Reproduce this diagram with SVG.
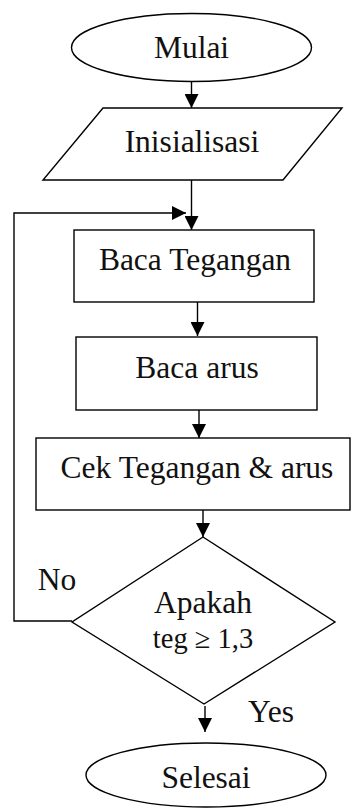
<svg xmlns="http://www.w3.org/2000/svg" width="352" height="808" viewBox="0 0 352 808">
  <style>
    .shape { fill: #ffffff; stroke: #000000; stroke-width: 1.4; }
    .lbl { font-family: "Liberation Serif", "Times New Roman", serif; font-size: 31.5px; fill: #111111; text-anchor: middle; }
    .small { font-size: 28.5px; }
    .edge { fill: none; stroke: #000000; stroke-width: 1.4; }
  </style>
  <defs>
    <marker id="arrow" markerWidth="15" markerHeight="14" refX="14" refY="7" orient="auto" markerUnits="userSpaceOnUse">
      <path d="M0,0 L14,7 L0,14 Z" fill="#000000"/>
    </marker>
  </defs>
  <rect width="352" height="808" fill="#ffffff"/>

  <g id="connectors">
    <line class="edge" x1="191.5" y1="82" x2="191.5" y2="108" marker-end="url(#arrow)"/>
    <line class="edge" x1="191.5" y1="180" x2="191.5" y2="230" marker-end="url(#arrow)"/>
    <line class="edge" x1="197.5" y1="302" x2="197.5" y2="336" marker-end="url(#arrow)"/>
    <line class="edge" x1="199" y1="410" x2="199" y2="438" marker-end="url(#arrow)"/>
    <line class="edge" x1="203" y1="510" x2="203" y2="537" marker-end="url(#arrow)"/>
    <line class="edge" x1="205" y1="706" x2="205" y2="732" marker-end="url(#arrow)"/>
    <!-- loop back from the decision -->
    <polyline class="edge" points="72,621 14,621 14,213 186,213" marker-end="url(#arrow)"/>
    <text class="lbl" x="57" y="590">No</text>
    <text class="lbl" x="271" y="722">Yes</text>
  </g>

  <g id="start">
    <ellipse class="shape" cx="191.5" cy="47.5" rx="120" ry="34"/>
    <text class="lbl" x="191.5" y="58">Mulai</text>
  </g>

  <g id="init">
    <polygon class="shape" points="103,108 342,108 283,180 43,180"/>
    <text class="lbl" x="192" y="152">Inisialisasi</text>
  </g>

  <g id="read-voltage">
    <rect class="shape" x="74" y="230" width="240" height="72"/>
    <text class="lbl" x="195" y="270">Baca Tegangan</text>
  </g>

  <g id="read-current">
    <rect class="shape" x="76" y="337" width="241" height="73"/>
    <text class="lbl" x="197" y="378">Baca arus</text>
  </g>

  <g id="check">
    <rect class="shape" x="36" y="438" width="314" height="72"/>
    <text class="lbl" x="197" y="478">Cek Tegangan &amp; arus</text>
  </g>

  <g id="decision">
    <polygon class="shape" points="203,537 335,622 204,704 72,622"/>
    <text class="lbl" x="203" y="613">Apakah</text>
    <text class="lbl small" x="203" y="648">teg ≥ 1,3</text>
  </g>

  <g id="end">
    <ellipse class="shape" cx="206" cy="775" rx="120" ry="32"/>
    <text class="lbl" x="206" y="788">Selesai</text>
  </g>
</svg>
